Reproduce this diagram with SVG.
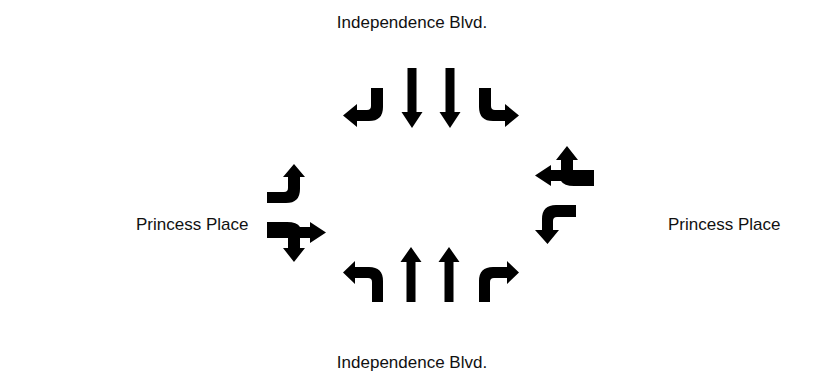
<svg xmlns="http://www.w3.org/2000/svg" width="820" height="376" viewBox="0 0 820 376">
  <style>
    .label { font-family: "Liberation Sans", Arial, sans-serif; font-size: 17px; fill: #111; }
    .arrow { fill: #000; stroke: none; }
  </style>
  <rect width="820" height="376" fill="#fff"/>

  <!-- street names -->
  <g id="street-north"><text class="label" x="412" y="28" text-anchor="middle">Independence Blvd.</text></g>
  <g id="street-south"><text class="label" x="412" y="368" text-anchor="middle">Independence Blvd.</text></g>
  <g id="street-west"><text class="label" x="136" y="230">Princess Place</text></g>
  <g id="street-east"><text class="label" x="668" y="230">Princess Place</text></g>

  <!-- lane-use arrows, grouped by approach -->
  <g id="connectors">
    <!-- southbound approach -->
    <g id="sb-right">
      <path class="arrow" d="M371,88 L383,88 L383,107 Q383,121 369,121 L357,121 L357,127 L343,115.5 L357,104 L357,110 L367,110 Q371,110 371,106 Z"/>
    </g>
    <g id="sb-through-1">
      <path class="arrow" d="M407.5,68 L416.5,68 L416.5,112 L422.5,112 L412,128 L401.5,112 L407.5,112 Z"/>
    </g>
    <g id="sb-through-2">
      <path class="arrow" d="M445.5,68 L454.5,68 L454.5,112 L460.5,112 L450,128 L439.5,112 L445.5,112 Z"/>
    </g>
    <g id="sb-left">
      <path class="arrow" transform="matrix(-1 0 0 1 862 0)" d="M371,88 L383,88 L383,107 Q383,121 369,121 L357,121 L357,127 L343,115.5 L357,104 L357,110 L367,110 Q371,110 371,106 Z"/>
    </g>

    <!-- northbound approach -->
    <g id="nb-left">
      <path class="arrow" d="M372,302 L383,302 L383,281 Q383,267 369,267 L355,267 L355,261 L343,272.5 L355,284 L355,278 L368,278 Q372,278 372,282 Z"/>
    </g>
    <g id="nb-through-1">
      <path class="arrow" d="M406.5,302 L415.5,302 L415.5,262 L421.5,262 L411,247 L400.5,262 L406.5,262 Z"/>
    </g>
    <g id="nb-through-2">
      <path class="arrow" d="M444.5,302 L453.5,302 L453.5,262 L459.5,262 L449,247 L438.5,262 L444.5,262 Z"/>
    </g>
    <g id="nb-right">
      <path class="arrow" transform="matrix(-1 0 0 1 862 0)" d="M372,302 L383,302 L383,281 Q383,267 369,267 L355,267 L355,261 L343,272.5 L355,284 L355,278 L368,278 Q372,278 372,282 Z"/>
    </g>

    <!-- eastbound approach -->
    <g id="eb-left">
      <path class="arrow" d="M267,192 L284,192 Q288,192 288,188 L288,177 L283,177 L294,164 L305,177 L300,177 L300,189 Q300,203 286,203 L267,203 Z"/>
    </g>
    <g id="eb-through-right">
      <path class="arrow" d="M267,222 L287,222 Q297,222 300,227 L310,227 L310,222 L326,232.5 L310,243 L310,238 L300,238 L300,248 L305,248 L294,262 L283,248 L288,248 L288,238 L267,238 Z"/>
    </g>

    <!-- westbound approach -->
    <g id="wb-through-right">
      <path class="arrow" transform="rotate(180 430.5 204)" d="M267,222 L287,222 Q297,222 300,227 L310,227 L310,222 L326,232.5 L310,243 L310,238 L300,238 L300,248 L305,248 L294,262 L283,248 L288,248 L288,238 L267,238 Z"/>
    </g>
    <g id="wb-left">
      <path class="arrow" d="M576,205 L556,205 Q542,205 542,219 L542,230 L535,230 L547.5,244 L559,230 L553,230 L553,221 Q553,217 557,217 L576,217 Z"/>
    </g>
  </g>
</svg>
